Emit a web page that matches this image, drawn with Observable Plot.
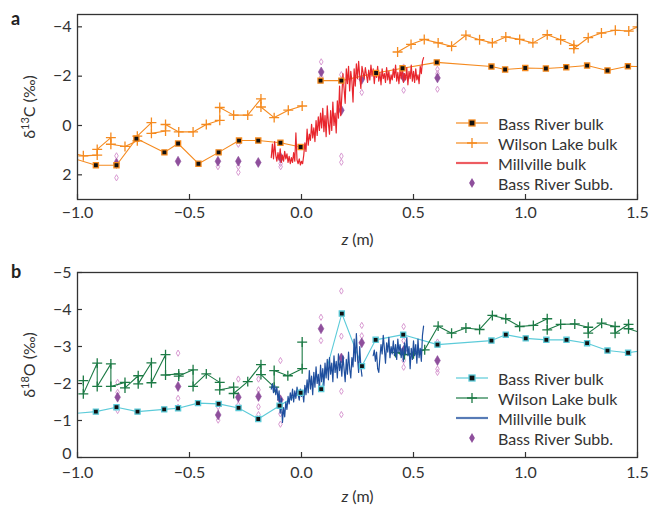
<!DOCTYPE html>
<html><head><meta charset="utf-8">
<script src="https://cdn.jsdelivr.net/npm/d3@7"></script>
<script src="https://cdn.jsdelivr.net/npm/@observablehq/plot@0.6"></script>
<style>
body{margin:0;background:#fff;}
#wrap{position:relative;width:649px;height:506px;font-family:Lato,sans-serif;color:#333;overflow:hidden;}
#top{position:absolute;left:0;top:0}
#bot{position:absolute;left:0;top:250px}
.plab{position:absolute;font-weight:bold;font-size:18px;color:#222;line-height:18px;}
.legend{position:absolute;font-size:16px;color:#333;}
.legend .row{display:flex;align-items:center;height:20px;}
.legend svg{margin-right:9px;}
</style></head><body>
<div id="wrap">
<div id="top"></div><div id="bot"></div>
<div class="plab" style="left:11px;top:9px">a</div>
<div class="plab" style="left:11px;top:262px">b</div>
<div class="legend" id="legTop" style="left:455px;top:113px"></div>
<div class="legend" id="legBot" style="left:455px;top:368px"></div>
</div>
<script>
// ---------- shared ----------
const xTicks = [-1, -0.5, 0, 0.5, 1, 1.5];
const yTicksC = [-4, -2, 0, 2];
const yTicksO = [-5, -4, -3, -2, -1, 0];
const seriesNames = ["Bass River bulk", "Wilson Lake bulk", "Millville bulk", "Bass River Subb."];

// ---------- panel a : δ13C ----------
const brBulkC = [[-1.05,1.25],[-0.918,1.61],[-0.826,1.61],[-0.737,0.53],[-0.612,1.09],[-0.551,0.73],[-0.46,1.55],[-0.37,1.09],[-0.279,0.61],[-0.193,0.61],[-0.094,0.70],[-0.004,0.87],[0.04,null],[0.085,-1.82],[0.178,-1.82],[0.333,-2.13],[0.451,-2.32],[0.604,-2.56],[0.848,-2.39],[0.909,-2.27],[0.999,-2.33],[1.091,-2.31],[1.182,-2.36],[1.275,-2.43],[1.366,-2.23],[1.457,-2.40],[1.55,-2.38]];
const wlBulkC = [[-1.03,1.10],[-0.974,1.23],[-0.912,1.20],[-0.912,0.97],[-0.851,0.49],[-0.851,0.76],[-0.788,0.85],[-0.733,0.62],[-0.733,0.43],[-0.67,-0.12],[-0.67,0.32],[-0.607,0.22],[-0.607,-0.04],[-0.548,0.26],[-0.484,0.26],[-0.425,-0.04],[-0.365,-0.21],[-0.365,-0.73],[-0.303,-0.42],[-0.24,-0.42],[-0.181,-1.08],[-0.181,-0.75],[-0.122,-0.32],[-0.059,-0.62],[0.003,-0.79],[0.2,null],[0.429,-2.98],[0.489,-3.29],[0.548,-3.49],[0.61,-3.35],[0.67,-3.21],[0.734,-3.66],[0.795,-3.48],[0.852,-3.35],[0.912,-3.59],[0.974,-3.49],[1.033,-3.35],[1.097,-3.68],[1.157,-3.48],[1.216,-3.25],[1.216,-3.12],[1.28,-3.56],[1.339,-3.75],[1.401,-3.86],[1.461,-3.83],[1.5,-4.0],[1.55,-4.05]];
const mvBulkC = [[-0.135,1.30],[-0.13,0.75],[-0.125,1.35],[-0.12,0.65],[-0.115,1.20],[-0.11,1.45],[-0.105,1.10],[-0.10,1.40],[-0.095,0.95],[-0.09,1.50],[-0.085,1.20],[-0.08,1.45],[-0.075,1.05],[-0.07,1.35],[-0.065,1.15],[-0.06,1.50],[-0.055,1.25],[-0.05,1.55],[-0.045,1.30],[-0.04,1.50],[-0.035,1.10],[-0.03,1.45],[-0.025,0.30],[-0.02,1.40],[-0.015,1.55],[-0.01,1.35],[-0.005,1.60],[0.0,1.45],[0.005,1.55],[0.01,1.20],[0.015,0.70],[0.02,1.05],[0.025,0.15],[0.03,0.80],[0.035,0.35],[0.04,0.60],[0.045,-0.05],[0.05,0.50],[0.055,0.10],[0.06,0.65],[0.065,-0.20],[0.07,0.40],[0.075,-0.35],[0.08,0.20],[0.085,-0.50],[0.09,0.10],[0.095,-0.70],[0.10,0.25],[0.105,-0.40],[0.11,0.45],[0.115,-0.80],[0.12,-0.10],[0.125,0.35],[0.13,-0.60],[0.135,0.20],[0.14,-0.95],[0.145,0.00],[0.15,-0.50],[0.155,0.30],[0.16,-1.00],[0.165,-0.30],[0.17,-1.60],[0.175,-0.40],[0.18,-1.20],[0.185,-2.10],[0.19,-1.50],[0.195,-0.90],[0.20,-2.30],[0.205,-1.70],[0.21,-2.40],[0.215,-1.40],[0.22,-2.20],[0.225,-1.80],[0.23,-0.95],[0.235,-2.30],[0.24,-1.60],[0.245,-2.50],[0.25,-1.90],[0.255,-2.60],[0.26,-2.00],[0.265,-1.50],[0.27,-2.40],[0.28,-1.90],[0.285,-2.35],[0.29,-2.05],[0.295,-1.75],[0.30,-2.25],[0.305,-1.85],[0.31,-2.45],[0.315,-2.00],[0.32,-2.30],[0.325,-1.70],[0.33,-2.20],[0.335,-1.95],[0.34,-2.40],[0.345,-1.80],[0.35,-2.15],[0.355,-1.65],[0.36,-2.30],[0.365,-1.90],[0.37,-2.10],[0.375,-1.75],[0.38,-2.35],[0.385,-1.85],[0.39,-2.20],[0.395,-1.70],[0.40,-2.05],[0.405,-1.85],[0.41,-2.30],[0.415,-1.95],[0.42,-2.45],[0.425,-1.80],[0.43,-2.15],[0.435,-1.70],[0.44,-2.25],[0.445,-1.90],[0.45,-2.40],[0.455,-1.75],[0.46,-2.10],[0.465,-1.85],[0.47,-2.35],[0.475,-1.65],[0.48,-2.20],[0.485,-1.90],[0.49,-2.45],[0.495,-1.80],[0.50,-2.20],[0.505,-1.75],[0.51,-2.30],[0.515,-1.85],[0.52,-2.05],[0.525,-1.70],[0.53,-2.40],[0.535,-2.10],[0.54,-2.60],[0.545,-2.75]];
const subbMeanC = [[-0.826,1.54],[-0.551,1.45],[-0.373,1.45],[-0.282,1.45],[-0.193,1.50],[-0.093,1.31],[0.088,-2.17],[0.178,-0.62],[0.269,-1.87],[0.456,-1.94],[0.607,-1.93]];
const subbRangeC = [[-0.826,1.23],[-0.826,1.45],[-0.826,2.12],[-0.373,1.67],[-0.282,0.76],[-0.282,1.67],[-0.282,1.90],[-0.093,1.54],[-0.093,1.67],[0.088,-2.58],[0.088,-1.97],[0.178,-2.06],[0.178,1.24],[0.178,1.49],[0.269,-1.34],[0.456,-2.37],[0.456,-1.43],[0.607,-2.28],[0.607,-2.10],[0.607,-1.47]];

// ---------- panel b : δ18O ----------
const brBulkO = [[-1.05,-1.17],[-0.918,-1.24],[-0.826,-1.36],[-0.732,-1.24],[-0.613,-1.30],[-0.551,-1.33],[-0.462,-1.47],[-0.37,-1.45],[-0.281,-1.34],[-0.193,-1.04],[-0.098,-1.40],[-0.004,-1.75],[0.04,null],[0.088,-1.85],[0.18,-3.89],[0.27,-2.47],[0.331,-3.18],[0.454,-3.32],[0.607,-3.05],[0.848,-3.16],[0.912,-3.32],[1.001,-3.22],[1.093,-3.18],[1.183,-3.18],[1.275,-3.09],[1.366,-2.89],[1.458,-2.83],[1.55,-2.92]];
const wlBulkO = [[-0.974,-2.08],[-0.974,-1.72],[-0.912,-2.55],[-0.912,-1.92],[-0.851,-2.53],[-0.851,-1.92],[-0.788,-2.03],[-0.788,-1.88],[-0.729,-2.21],[-0.729,-1.99],[-0.67,-2.56],[-0.67,-2.02],[-0.607,-2.78],[-0.607,-2.23],[-0.548,-2.26],[-0.548,-2.20],[-0.484,-2.37],[-0.484,-1.92],[-0.425,-2.26],[-0.365,-2.03],[-0.365,-1.83],[-0.303,-1.90],[-0.303,-1.73],[-0.24,-2.05],[-0.181,-2.51],[-0.181,-2.24],[-0.122,-1.90],[-0.122,-2.35],[-0.061,-2.21],[0.003,-2.40],[0.003,-3.12],[0.2,null],[0.42,-2.84],[0.46,-2.78],[0.50,-2.80],[0.55,-2.91],[0.61,-3.55],[0.67,-3.36],[0.734,-3.50],[0.795,-3.46],[0.852,-3.84],[0.912,-3.75],[0.974,-3.54],[1.035,-3.57],[1.097,-3.75],[1.097,-3.45],[1.157,-3.60],[1.22,-3.61],[1.28,-3.52],[1.28,-3.36],[1.34,-3.63],[1.40,-3.54],[1.40,-3.36],[1.46,-3.60],[1.46,-3.48],[1.55,-3.30]];
const mvBulkO = [[-0.135,-1.85],[-0.13,-2.00],[-0.125,-1.75],[-0.12,-1.95],[-0.115,-1.70],[-0.11,-1.90],[-0.105,-1.55],[-0.10,-1.80],[-0.095,-1.20],[-0.09,-1.60],[-0.085,-0.95],[-0.08,-1.35],[-0.075,-1.10],[-0.07,-1.50],[-0.065,-1.30],[-0.06,-1.65],[-0.055,-1.45],[-0.05,-1.75],[-0.045,-1.55],[-0.04,-1.85],[-0.035,-1.50],[-0.03,-1.80],[-0.025,-1.60],[-0.02,-1.90],[-0.015,-1.70],[-0.01,-1.55],[-0.005,-1.85],[0.0,-1.65],[0.005,-1.80],[0.01,-1.50],[0.015,-1.95],[0.02,-1.70],[0.025,-2.10],[0.03,-1.75],[0.035,-2.35],[0.04,-1.85],[0.045,-2.20],[0.05,-1.70],[0.055,-2.30],[0.06,-1.90],[0.065,-2.45],[0.07,-2.00],[0.075,-2.25],[0.08,-1.80],[0.085,-2.50],[0.09,-2.05],[0.095,-2.40],[0.10,-1.95],[0.105,-2.55],[0.11,-2.15],[0.115,-2.65],[0.12,-2.10],[0.125,-2.70],[0.13,-2.25],[0.135,-2.55],[0.14,-2.05],[0.145,-2.75],[0.15,-2.30],[0.155,-2.60],[0.16,-2.15],[0.165,-2.80],[0.17,-2.35],[0.175,-2.60],[0.18,-2.20],[0.185,-2.75],[0.19,-2.40],[0.195,-2.05],[0.20,-2.65],[0.205,-2.25],[0.21,-2.85],[0.215,-2.40],[0.22,-2.15],[0.225,-2.70],[0.23,-2.45],[0.235,-3.20],[0.24,-2.60],[0.245,-3.35],[0.25,-2.70],[0.255,-2.30],[0.26,-3.00],[0.265,-2.45],[0.27,-2.20],[0.29,null],[0.32,-2.75],[0.325,-2.90],[0.33,-2.60],[0.335,-2.85],[0.34,-2.40],[0.345,-2.30],[0.35,-2.70],[0.355,-3.05],[0.36,-2.80],[0.365,-3.30],[0.37,-2.95],[0.375,-2.55],[0.38,-3.10],[0.385,-2.85],[0.39,-3.25],[0.395,-2.70],[0.40,-3.00],[0.405,-2.80],[0.41,-3.15],[0.415,-2.75],[0.42,-3.05],[0.425,-2.65],[0.43,-3.20],[0.435,-2.85],[0.44,-3.05],[0.445,-2.70],[0.45,-2.95],[0.455,-2.60],[0.46,-3.10],[0.465,-2.80],[0.47,-3.25],[0.475,-2.75],[0.48,-3.00],[0.485,-2.40],[0.49,-2.95],[0.495,-2.65],[0.50,-3.15],[0.505,-2.75],[0.51,-3.05],[0.515,-2.55],[0.52,-3.20],[0.525,-2.70],[0.53,-2.95],[0.535,-2.60],[0.54,-3.30],[0.545,-3.55]];
const subbMeanO = [[-0.821,-1.63],[-0.551,-1.92],[-0.372,-1.15],[-0.282,-1.63],[-0.192,-1.65],[-0.094,-1.56],[0.087,-3.48],[0.178,-2.69],[0.269,-3.10],[0.456,-2.89],[0.607,-2.62]];
const subbRangeO = [[-0.821,-2.03],[-0.821,-1.76],[-0.821,-1.27],[-0.551,-2.82],[-0.551,-1.60],[-0.551,-1.36],[-0.372,-1.37],[-0.372,-1.01],[-0.282,-2.12],[-0.282,-1.42],[-0.192,-2.12],[-0.192,-1.83],[-0.192,-1.37],[-0.192,-1.16],[-0.094,-2.62],[-0.094,-1.18],[-0.094,-0.90],[0.087,-3.79],[0.087,-3.16],[0.178,-4.50],[0.178,-3.28],[0.178,-1.79],[0.178,-1.16],[0.269,-3.57],[0.269,-3.29],[0.456,-3.54],[0.456,-3.16],[0.456,-2.62],[0.456,-2.44],[0.607,-3.12],[0.607,-2.39],[0.607,-2.30]];

const colorsC = {br: "#f58a1f", wl: "#f58a1f", mv: "#e8262d"};
const colorsO = {br: "#5ccbd9", wl: "#1c7a45", mv: "#1f4f9e"};
const subbFill = "#8e4f9c", subbHollow = "#d99bd2";

function panel(o) {
  const plotW = 649 - 77 - 12;
  const plotH = o.height - o.marginTop - o.marginBottom;
  const p = Plot.plot({
    width: 649, height: o.height,
    marginLeft: 77, marginRight: 12, marginTop: o.marginTop, marginBottom: o.marginBottom,
    style: {fontFamily: "Lato, sans-serif", fontSize: "16px", color: "#333", background: "transparent"},
    x: {domain: [-1, 1.5]},
    y: {domain: o.yDomain},
    marks: [
      Plot.axisX({ticks: xTicks, tickFormat: d3.format(".1f"), tickSize: 0, tickPadding: o.xPad, label: "z (m)", labelAnchor: "center", labelArrow: "none", labelOffset: o.xLabelOffset, fontSize: 16}),
      Plot.axisY({ticks: o.yTicks, tickFormat: d3.format("d"), tickSize: 0, tickPadding: 6, label: o.yLabel, labelAnchor: "center", labelArrow: "none", labelOffset: 54, fontSize: 16}),
      Plot.tickX(xTicks, {x: d => d, insetTop: plotH - 5, stroke: "#333", strokeWidth: 1.2}),
      Plot.tickY(o.yTicks, {y: d => d, insetRight: plotW - 5, stroke: "#333", strokeWidth: 1.2}),
      Plot.dot(o.subbRange, {x: d => d[0], y: d => d[1], symbol: "diamond", r: 1.9, fill: "none", stroke: o.hollow, strokeWidth: 1}),
      Plot.dot(o.subbMean, {x: d => d[0], y: d => d[1], symbol: "diamond", r: 3, fill: subbFill, stroke: subbFill, strokeWidth: 0.6}),
      Plot.line(o.br, {x: d => d[0], y: d => d[1], stroke: o.colors.br, strokeWidth: 1.1, clip: true}),
      Plot.line(o.wl, {x: d => d[0], y: d => d[1], stroke: o.colors.wl, strokeWidth: 1.1, clip: true}),
      Plot.dot(o.wl, {x: d => d[0], y: d => d[1], symbol: "plus", r: 3.3, stroke: o.colors.wl, strokeWidth: 1.3, clip: true}),
      Plot.line(o.mv, {x: d => d[0], y: d => d[1], stroke: o.colors.mv, strokeWidth: 1.2, clip: true}),
      Plot.dot(o.br, {x: d => d[0], y: d => d[1], symbol: "square", r: 2.9, fill: "#111", stroke: o.colors.br, strokeWidth: 1.3, clip: true}),
      Plot.frame({stroke: "#333", strokeWidth: 1.3})
    ]
  });
  const yl = p.querySelector('g[aria-label="y-axis label"] text');
  if (yl) { yl.innerHTML = o.yLabelHTML; yl.setAttribute("font-size", "16"); }
  const xl = p.querySelector('g[aria-label="x-axis label"] text');
  if (xl) { xl.innerHTML = '<tspan font-style="italic">z</tspan> (m)'; xl.setAttribute("font-size", "16"); }
  if (o.liftZero) {
    p.querySelectorAll('g[aria-label="y-axis tick label"] text').forEach(t => {
      if (t.textContent.trim() === "0") {
        const tr = t.getAttribute("transform");
        t.setAttribute("transform", (tr ? tr + " " : "") + "translate(0,-4)");
      }
    });
  }
  return p;
}

document.getElementById("top").appendChild(panel({
  height: 250, marginTop: 14, marginBottom: 51, xLabelOffset: 45, xPad: 7,
  yDomain: [3, -4.5], yTicks: yTicksC, yLabel: "δ13C (‰)",
  yLabelHTML: 'δ<tspan baseline-shift="super" font-size="11">13</tspan>C (‰)',
  br: brBulkC, wl: wlBulkC, mv: mvBulkC, subbMean: subbMeanC, subbRange: subbRangeC,
  colors: colorsC, hollow: subbHollow
}));
document.getElementById("bot").appendChild(panel({
  height: 256, marginTop: 22, marginBottom: 49, xLabelOffset: 44, xPad: 9, liftZero: true,
  yDomain: [0, -5], yTicks: yTicksO, yLabel: "δ18O (‰)",
  yLabelHTML: 'δ<tspan baseline-shift="super" font-size="11">18</tspan>O (‰)',
  br: brBulkO, wl: wlBulkO, mv: mvBulkO, subbMean: subbMeanO, subbRange: subbRangeO,
  colors: colorsO, hollow: subbHollow
}));

function legend(el, colors) {
  const swatches = [
    `<line x1="1" x2="33" y1="10" y2="10" stroke="${colors.br}" stroke-width="1.2"/><rect x="14" y="7" width="6" height="6" fill="#111" stroke="${colors.br}" stroke-width="1.3"/>`,
    `<line x1="1" x2="33" y1="10" y2="10" stroke="${colors.wl}" stroke-width="1.2"/><path d="M17,5V15M12,10H22" stroke="${colors.wl}" stroke-width="1.3"/>`,
    `<line x1="1" x2="33" y1="10" y2="10" stroke="${colors.mv}" stroke-width="2.2" opacity="0.75"/>`,
    `<path d="M17,5L19.9,10L17,15L14.1,10Z" fill="${subbFill}"/>`
  ];
  el.innerHTML = seriesNames.map((n, i) =>
    `<div class="row"><svg width="34" height="20">${swatches[i]}</svg><span>${n}</span></div>`).join("");
}
legend(document.getElementById("legTop"), colorsC);
legend(document.getElementById("legBot"), colorsO);
</script>
</body></html>
